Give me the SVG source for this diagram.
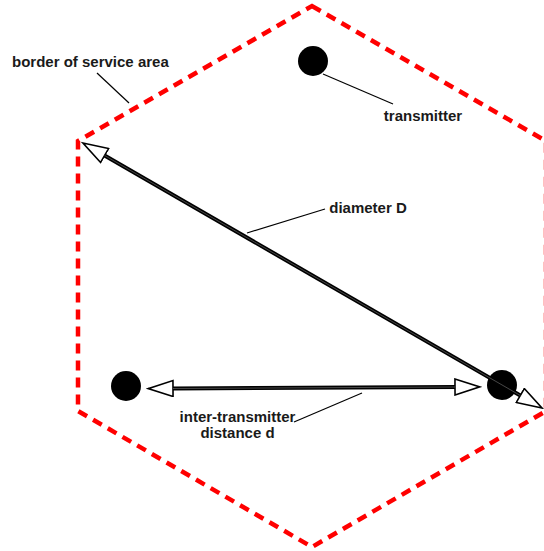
<svg xmlns="http://www.w3.org/2000/svg" width="544" height="551" viewBox="0 0 544 551">
<defs>
<style>
.border{fill:none;stroke:#ff0000;stroke-width:4.5;stroke-dasharray:10 7}
.tx{fill:#000}
.lbl{font-family:"Liberation Sans",Arial,sans-serif;font-weight:bold;font-size:15px;fill:#1a1a1a}
.leader{stroke:#000;stroke-width:1.2;fill:none}
.shaft{stroke:#000;stroke-width:4;fill:none}
.shaftc{stroke:#666;stroke-width:0.7;fill:none}
</style>
<marker id="head" viewBox="0 0 28 18" refX="1" refY="9" markerWidth="28" markerHeight="18" markerUnits="userSpaceOnUse" orient="auto-start-reverse">
<path d="M1,1 L26,9 L1,17 z" fill="#fff" stroke="#000" stroke-width="1.6" stroke-linejoin="miter"/>
</marker>
</defs>
<rect width="544" height="551" fill="#fff"/>
<g id="service-area">
<path class="border" d="M312,6 L546,141 L546,411 L312,547 L78,411 L78,141 Z"/>
</g>
<g id="transmitter-top"><circle class="tx" cx="313" cy="61" r="15"/></g>
<g id="transmitter-left"><circle class="tx" cx="126" cy="386" r="15"/></g>
<g id="transmitter-right"><circle class="tx" cx="502" cy="385" r="15"/></g>
<g id="connectors">
<line class="shaft" x1="104.6" y1="155.5" x2="520.3" y2="395.5" marker-start="url(#head)" marker-end="url(#head)"/>
<line class="shaftc" x1="104.6" y1="155.5" x2="520.3" y2="395.5"/>
<line class="shaft" x1="173" y1="388.5" x2="455" y2="387" marker-start="url(#head)" marker-end="url(#head)"/>
<line class="shaftc" x1="173" y1="388.5" x2="455" y2="387"/>
<line class="leader" x1="97" y1="73" x2="129" y2="103"/>
<line class="leader" x1="323" y1="74" x2="393" y2="104"/>
<line class="leader" x1="247" y1="233" x2="325" y2="209"/>
<line class="leader" x1="362" y1="393" x2="294" y2="422"/>
</g>
<g id="label-border"><text class="lbl" x="12" y="67">border of service area</text></g>
<g id="label-transmitter"><text class="lbl" x="423" y="121" text-anchor="middle">transmitter</text></g>
<g id="label-diameter"><text class="lbl" x="368" y="213" text-anchor="middle">diameter D</text></g>
<g id="label-distance"><text class="lbl" x="237.5" y="422" text-anchor="middle">inter-transmitter</text><text class="lbl" x="237.5" y="438" text-anchor="middle">distance d</text></g>
</svg>
